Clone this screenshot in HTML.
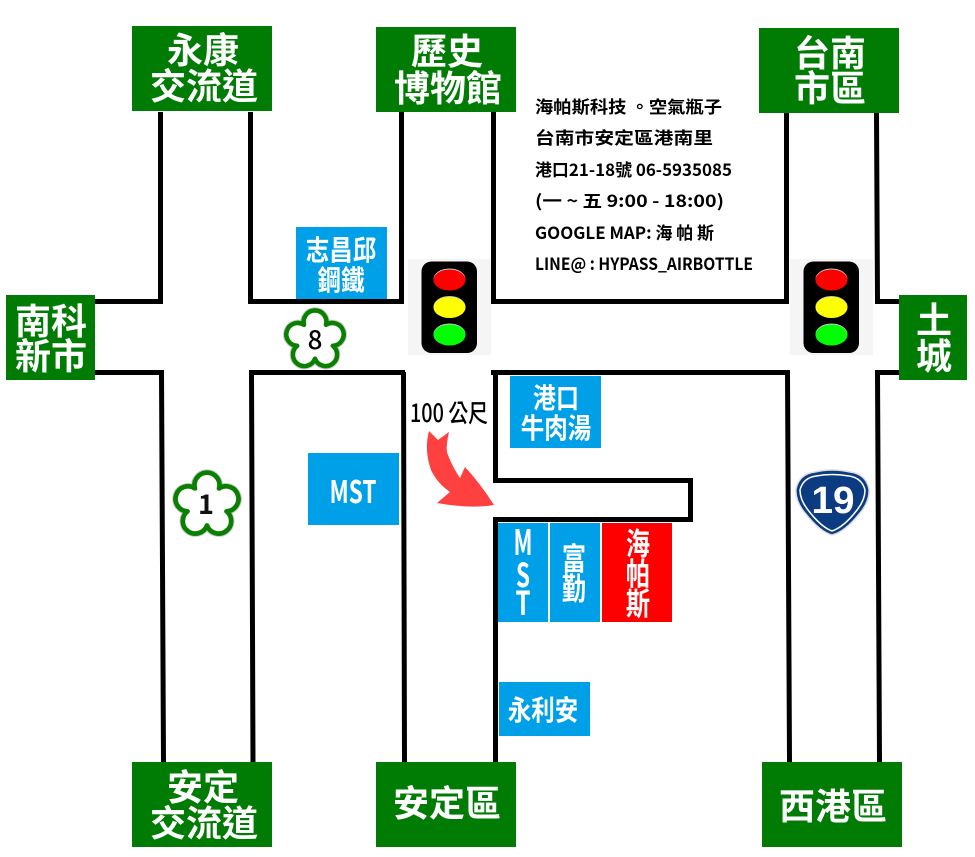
<!DOCTYPE html>
<html><head><meta charset="utf-8">
<style>
html,body{margin:0;padding:0;background:#fff;width:975px;height:857px;overflow:hidden}
svg{display:block;position:absolute;left:0;top:0}
text{font-family:"Noto Sans CJK TC","Liberation Sans",sans-serif}
.g{font-weight:700;font-size:36px;fill:#fff;text-anchor:middle}
.b{font-weight:700;font-size:28px;fill:#fff;text-anchor:middle}
.v{font-weight:700;font-size:31px;fill:#fff;text-anchor:middle}
.i{font-weight:700;font-size:17px;fill:#000}
</style></head><body>
<svg width="975" height="857" viewBox="0 0 975 857" xmlns="http://www.w3.org/2000/svg">
<rect width="975" height="857" fill="#fff"/>
<!-- roads -->
<g fill="none" stroke="#000" stroke-width="5">
<path d="M95 301.500H160.500V112"/>
<path d="M250.500 112V301.500H404"/>
<path d="M401.500 112V300"/>
<path d="M493.500 112V301.500H786.500V113"/>
<path d="M876.500 113L877.500 301.500H899"/>
<path d="M95 372.500H161.500L163.500 762"/>
<path d="M253 762L251.500 372.500H405"/>
<path d="M403.500 372L404.500 762"/>
<path d="M491 372.500H787.500L789.500 762"/>
<path d="M899 372.500H877.500L879.500 762"/>
<path d="M495.500 375V480.500H690.500V519.500H495.500V762"/>
</g>
<!-- green signs -->
<g fill="#007c04">
<rect x="132" y="26" width="140" height="85"/>
<rect x="6" y="295" width="89" height="85"/>
<rect x="376" y="27" width="140" height="85"/>
<rect x="759" y="28" width="140" height="85"/>
<rect x="899" y="295" width="68" height="85"/>
<rect x="132" y="762" width="140" height="85"/>
<rect x="376" y="762" width="140" height="85"/>
<rect x="762" y="762" width="140" height="85"/>
</g>
<text class="g" x="203" y="63">永康</text><text class="g" x="204" y="99">交流道</text>
<text class="g" x="51" y="334">南科</text><text class="g" x="51" y="369">新市</text>
<text class="g" x="447" y="64">歷史</text><text class="g" x="448" y="101">博物館</text>
<text class="g" x="830" y="66">台南</text><text class="g" x="830" y="101">市區</text>
<text class="g" x="934" y="333">土</text><text class="g" x="934" y="369">城</text>
<text class="g" x="203" y="800">安定</text><text class="g" x="204" y="836">交流道</text>
<text class="g" x="447" y="816">安定區</text>
<text class="g" x="833" y="819">西港區</text>
<!-- blue boxes -->
<g fill="#00a0e9">
<rect x="296" y="227" width="91" height="72"/>
<rect x="510" y="376" width="91" height="72"/>
<rect x="308" y="453" width="91" height="72"/>
<rect x="498" y="523" width="50" height="99"/>
<rect x="550" y="523" width="50" height="99"/>
<rect x="499" y="682" width="91" height="54"/>
</g>
<rect x="602" y="523" width="70" height="99" fill="#f00"/>
<text class="b" transform="translate(341 260) scale(.84 1)">志昌邱</text>
<text class="b" transform="translate(341 290) scale(.84 1)">鋼鐵</text>
<text class="b" transform="translate(556 408) scale(.82 1)">港口</text>
<text class="b" transform="translate(556 438) scale(.84 1)">牛肉湯</text>
<text class="b" transform="translate(543 720) scale(.84 1)">永利安</text>
<text x="353" y="503" font-size="31" font-weight="700" fill="#fff" textLength="47" lengthAdjust="spacingAndGlyphs" text-anchor="middle">MST</text>
<text x="523" y="555" font-size="35" font-weight="700" fill="#fff" textLength="19" lengthAdjust="spacingAndGlyphs" text-anchor="middle">M</text>
<text x="523" y="587" font-size="33" font-weight="700" fill="#fff" textLength="14" lengthAdjust="spacingAndGlyphs" text-anchor="middle">S</text>
<text x="523" y="615" font-size="33" font-weight="700" fill="#fff" textLength="15" lengthAdjust="spacingAndGlyphs" text-anchor="middle">T</text>
<text class="v" transform="translate(574 570) scale(.78 1)">富</text>
<text class="v" transform="translate(574 600) scale(.78 1)">勤</text>
<text class="v" transform="translate(638 555) scale(.78 1)">海</text>
<text class="v" transform="translate(638 585) scale(.78 1)">帕</text>
<text class="v" transform="translate(638 615) scale(.78 1)">斯</text>
<!-- traffic lights -->
<g>
<rect x="408" y="259" width="83" height="96" fill="#f5f5f5"/>
<rect x="421.500" y="261.500" width="55.500" height="91.500" rx="10" fill="#000"/>
<ellipse cx="449.500" cy="279" rx="16" ry="10.500" fill="#c8c8c8"/><ellipse cx="449.500" cy="280" rx="16" ry="10.500" fill="#f00"/>
<ellipse cx="449.500" cy="306.500" rx="16" ry="10.500" fill="#c8c8c8"/><ellipse cx="449.500" cy="307.500" rx="16" ry="10.500" fill="#ff0"/>
<ellipse cx="449.500" cy="334" rx="16" ry="10.500" fill="#c8c8c8"/><ellipse cx="449.500" cy="335" rx="16" ry="10.500" fill="#0f0"/>
</g>
<g transform="translate(382 0)">
<rect x="408" y="259" width="83" height="96" fill="#f5f5f5"/>
<rect x="421.500" y="261.500" width="55.500" height="91.500" rx="10" fill="#000"/>
<ellipse cx="449.500" cy="279" rx="16" ry="10.500" fill="#c8c8c8"/><ellipse cx="449.500" cy="280" rx="16" ry="10.500" fill="#f00"/>
<ellipse cx="449.500" cy="306.500" rx="16" ry="10.500" fill="#c8c8c8"/><ellipse cx="449.500" cy="307.500" rx="16" ry="10.500" fill="#ff0"/>
<ellipse cx="449.500" cy="334" rx="16" ry="10.500" fill="#c8c8c8"/><ellipse cx="449.500" cy="335" rx="16" ry="10.500" fill="#0f0"/>
</g>
<!-- route flowers -->
<g transform="translate(207 505) scale(25)" fill="#fff" stroke-linejoin="round">
<path d="M-.482-.663A.5.5 0 1 1 .482-.663A.5.5 0 1 1 .78.253A.5.5 0 1 1 0 .82A.5.5 0 1 1-.78.253A.5.5 0 1 1-.482-.663Z" stroke="#ccc" stroke-width=".27"/>
<path d="M-.482-.663A.5.5 0 1 1 .482-.663A.5.5 0 1 1 .78.253A.5.5 0 1 1 0 .82A.5.5 0 1 1-.78.253A.5.5 0 1 1-.482-.663Z" stroke="#0a8000" stroke-width=".19"/>
</g>
<text x="206" y="514" font-size="27" font-weight="700" text-anchor="middle" fill="#111">1</text>
<g transform="translate(315 340) scale(22.800)" fill="#fff" stroke-linejoin="round">
<path d="M-.482-.663A.5.5 0 1 1 .482-.663A.5.5 0 1 1 .78.253A.5.5 0 1 1 0 .82A.5.5 0 1 1-.78.253A.5.5 0 1 1-.482-.663Z" stroke="#ccc" stroke-width=".29"/>
<path d="M-.482-.663A.5.5 0 1 1 .482-.663A.5.5 0 1 1 .78.253A.5.5 0 1 1 0 .82A.5.5 0 1 1-.78.253A.5.5 0 1 1-.482-.663Z" stroke="#0a8000" stroke-width=".2"/>
</g>
<text x="315" y="349" font-size="26" text-anchor="middle" fill="#000" font-weight="500">8</text>
<!-- route 19 shield -->
<path d="M815 472Q832 468 850 472Q866 474 869 489Q870 501 860 513Q845 532 832 535Q820 532 805 513Q795 501 796 489Q799 474 815 472Z" fill="#0b3c82" stroke="#ddd" stroke-width="1.500"/>
<path d="M816 476Q832 473 849 476Q862 478 865 490Q865 500 857 510Q844 527 832 531Q821 527 808 510Q800 500 800 490Q803 478 816 476Z" fill="none" stroke="#fff" stroke-width="1.500"/>
<text x="833" y="513" font-size="38" font-weight="700" text-anchor="middle" fill="#fff" style="font-family:'Liberation Sans',sans-serif" textLength="43" lengthAdjust="spacingAndGlyphs">19</text>
<!-- distance and arrow -->
<text x="410" y="422" font-size="25" fill="#000" font-weight="500" textLength="78" lengthAdjust="spacingAndGlyphs">100 公尺</text>
<path d="M429 431L438 440L449 432Q445 450 448 455Q453 468 460 478L465 467Q480 483 494 505Q470 509 437 503L450 492Q437 483 431 470Q424 450 429 431Z" fill="#ff4040"/>
<!-- info -->
<text class="i" x="535" y="113" textLength="187" lengthAdjust="spacingAndGlyphs">海帕斯科技 。空氣瓶子</text>
<text class="i" x="535" y="144" textLength="178" lengthAdjust="spacingAndGlyphs">台南市安定區港南里</text>
<text class="i" x="535" y="176" textLength="197" lengthAdjust="spacingAndGlyphs">港口21-18號 06-5935085</text>
<text class="i" x="535" y="207" textLength="189" lengthAdjust="spacingAndGlyphs">(一 ~ 五 9:00 - 18:00)</text>
<text class="i" x="535" y="239" textLength="179" lengthAdjust="spacingAndGlyphs">GOOGLE MAP: 海 帕 斯</text>
<text class="i" x="535" y="270" textLength="218" lengthAdjust="spacingAndGlyphs">LINE@ : HYPASS_AIRBOTTLE</text>
</svg>
</body></html>
